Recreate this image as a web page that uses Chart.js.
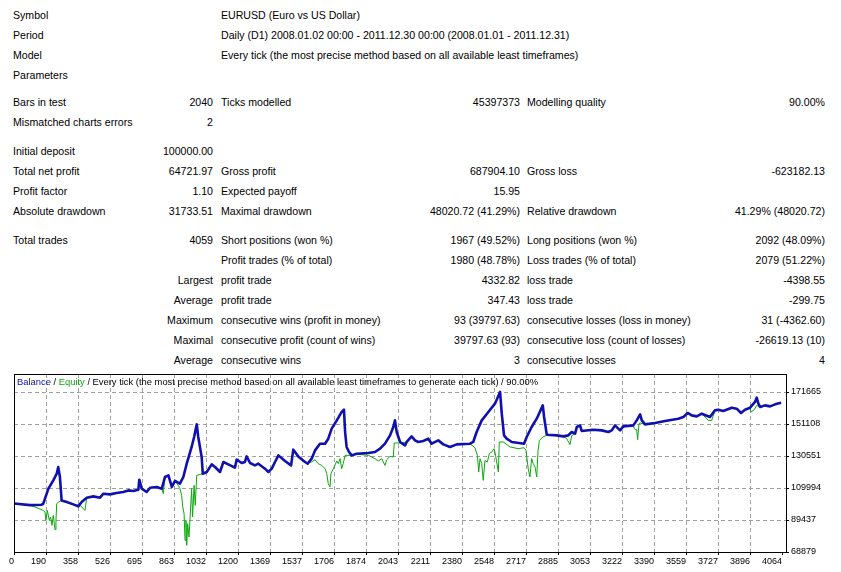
<!DOCTYPE html>
<html>
<head>
<meta charset="utf-8">
<script src="https://cdn.jsdelivr.net/npm/chart.js@4.4.0/dist/chart.umd.min.js"></script>
<style>
  body { margin: 0; background: #fff; width: 841px; height: 572px; overflow: hidden; position: relative;
         font-family: "Liberation Sans", Arial, sans-serif; font-size: 10.6px; color: #000; }
  .c { position: absolute; white-space: nowrap; line-height: 20px; height: 20px; }
  #wrap { position: absolute; left: 0; top: 370px; width: 841px; height: 202px; }
  #title { position: absolute; left: 17px; top: 376px; font-size: 9.4px; line-height: 12px; white-space: nowrap; }
</style>
</head>
<body>
<div id="report"></div>
<div id="wrap"><canvas id="chart" width="841" height="202"></canvas></div>
<div id="title"><span style="color:#1010b0">Balance</span> / <span style="color:#0aa80a">Equity</span> / Every tick (the most precise method based on all available least timeframes to generate each tick) / 90.00%</div>
<script>
// report table
const reportRows = [
  ["Symbol", "", "EURUSD (Euro vs US Dollar)", "", "", ""],
  ["Period", "", "Daily (D1) 2008.01.02 00:00 - 2011.12.30 00:00 (2008.01.01 - 2011.12.31)", "", "", ""],
  ["Model", "", "Every tick (the most precise method based on all available least timeframes)", "", "", ""],
  ["Parameters", "", "", "", "", ""],
  ["Bars in test", "2040", "Ticks modelled", "45397373", "Modelling quality", "90.00%"],
  ["Mismatched charts errors", "2", "", "", "", ""],
  ["Initial deposit", "100000.00", "", "", "", ""],
  ["Total net profit", "64721.97", "Gross profit", "687904.10", "Gross loss", "-623182.13"],
  ["Profit factor", "1.10", "Expected payoff", "15.95", "", ""],
  ["Absolute drawdown", "31733.51", "Maximal drawdown", "48020.72 (41.29%)", "Relative drawdown", "41.29% (48020.72)"],
  ["Total trades", "4059", "Short positions (won %)", "1967 (49.52%)", "Long positions (won %)", "2092 (48.09%)"],
  ["", "", "Profit trades (% of total)", "1980 (48.78%)", "Loss trades (% of total)", "2079 (51.22%)"],
  ["", "Largest", "profit trade", "4332.82", "loss trade", "-4398.55"],
  ["", "Average", "profit trade", "347.43", "loss trade", "-299.75"],
  ["", "Maximum", "consecutive wins (profit in money)", "93 (39797.63)", "consecutive losses (loss in money)", "31 (-4362.60)"],
  ["", "Maximal", "consecutive profit (count of wins)", "39797.63 (93)", "consecutive loss (count of losses)", "-26619.13 (10)"],
  ["", "Average", "consecutive wins", "3", "consecutive losses", "4"],
];

// chart data (trade number / money)
const balanceTrades = [0, 85, 147, 155, 182, 208, 226, 234, 243, 252, 279, 314, 340, 358, 385, 420, 455, 473, 508, 543,
  578, 605, 631, 658, 663, 676, 702, 720, 755, 782, 799, 817, 835, 852, 878, 896, 914, 940, 953, 967,
  975, 993, 999, 1020, 1046, 1064, 1090, 1108, 1134, 1169, 1178, 1205, 1222, 1231, 1249, 1275, 1293, 1328, 1346, 1364,
  1381, 1399, 1434, 1466, 1478, 1504, 1540, 1554, 1575, 1593, 1619, 1646, 1663, 1681, 1708, 1734, 1746, 1752, 1760, 1773,
  1787, 1813, 1875, 1910, 1937, 1963, 1990, 2007, 2016, 2025, 2043, 2069, 2078, 2104, 2122, 2139, 2166, 2192, 2210, 2245,
  2272, 2307, 2343, 2413, 2430, 2448, 2475, 2510, 2545, 2572, 2581, 2593, 2607, 2634, 2699, 2713, 2739, 2766, 2798, 2805,
  2819, 2872, 2907, 2933, 2951, 2969, 2978, 2995, 3004, 3065, 3110, 3145, 3163, 3180, 3207, 3224, 3277, 3295, 3313, 3322,
  3339, 3392, 3445, 3515, 3542, 3565, 3586, 3613, 3639, 3683, 3709, 3727, 3753, 3798, 3824, 3847, 3868, 3895, 3921, 3930,
  3939, 3948, 3974, 4001, 4027, 4059];
const balanceValues = [100000, 99000, 99265, 99907, 109543, 114875, 119179, 123483, 117059, 102027, 100999, 99457, 98172, 100999, 103761, 104596, 103761, 106331, 105881, 106781,
  107423, 108451, 108065, 108901, 115325, 109543, 107423, 110185, 110635, 109543, 117059, 118087, 110635, 114489, 112755, 117059, 125603, 136331, 142755, 150849,
  142755, 129907, 119179, 120271, 125153, 123483, 120271, 126695, 125153, 123033, 128173, 126053, 126695, 130292, 126053, 124511, 125603, 122391, 120271, 122391,
  126695, 130935, 127337, 124511, 134597, 130292, 126695, 125603, 128815, 134147, 138451, 138451, 141663, 148087, 153419, 158815, 160293, 145967, 136331, 133119,
  130935, 132027, 132477, 133119, 135239, 138451, 143783, 149179, 153419, 145967, 139543, 137359, 139543, 143140, 140571, 139543, 140185, 141663, 138451, 140571,
  138001, 136331, 138001, 138451, 139543, 145967, 153419, 158815, 164147, 171665, 157723, 143783, 141663, 139543, 138451, 142755, 149179, 154511, 163055, 155603,
  144233, 143783, 143140, 143783, 145967, 144875, 149179, 150207, 146609, 147445, 146995, 145967, 146995, 150207, 146995, 149564, 150207, 153419, 157273, 153419,
  150849, 151749, 153033, 154511, 155603, 158173, 156631, 155988, 157723, 155603, 159843, 160293, 159457, 161577, 160935, 158173, 160293, 161577, 165239, 168001,
  164147, 162027, 163055, 162412, 163697, 164722];

const equityTrades = [0, 85, 111, 155, 164, 169, 176, 187, 194, 201, 208, 217, 222, 226, 234, 252, 279, 314, 349, 376,
  385, 420, 455, 473, 508, 543, 578, 605, 631, 658, 663, 676, 702, 720, 755, 782, 790, 799, 817, 835,
  852, 869, 878, 887, 893, 900, 905, 910, 914, 919, 926, 931, 940, 945, 953, 959, 967, 999, 1020, 1046,
  1064, 1090, 1108, 1134, 1169, 1178, 1205, 1222, 1231, 1249, 1275, 1293, 1328, 1346, 1364, 1381, 1399, 1434, 1466, 1478,
  1504, 1540, 1549, 1575, 1593, 1610, 1628, 1646, 1655, 1663, 1672, 1677, 1690, 1708, 1716, 1725, 1734, 1742, 1752, 1787,
  1813, 1840, 1875, 1910, 1928, 1946, 1963, 1972, 1990, 2007, 2012, 2052, 2078, 2104, 2122, 2139, 2166, 2192, 2210, 2245,
  2272, 2307, 2343, 2413, 2439, 2452, 2459, 2466, 2475, 2483, 2492, 2505, 2515, 2528, 2540, 2547, 2554, 2563, 2568, 2589,
  2625, 2669, 2699, 2709, 2721, 2730, 2739, 2748, 2757, 2766, 2773, 2780, 2798, 2819, 2872, 2907, 2925, 2942, 2951, 2969,
  2978, 2995, 3004, 3065, 3110, 3145, 3163, 3180, 3207, 3224, 3277, 3282, 3290, 3295, 3300, 3307, 3313, 3339, 3392, 3445,
  3515, 3542, 3565, 3586, 3613, 3639, 3674, 3692, 3709, 3727, 3753, 3798, 3824, 3847, 3868, 3895, 3900, 3917, 3930, 3948,
  3974, 4001, 4027, 4059];
const equityValues = [100000, 98815, 97787, 95603, 94575, 89179, 95603, 89179, 91363, 85967, 92391, 83205, 89179, 99907, 100742, 102027, 100999, 99457, 98815, 95603,
  103761, 104596, 103761, 106331, 105881, 106781, 107423, 108451, 108065, 108901, 115325, 109543, 107423, 110185, 110635, 109543, 106331, 117059, 118087, 110635,
  114489, 111663, 109543, 105239, 97787, 93483, 76331, 89179, 73119, 87059, 78515, 89179, 109543, 91363, 111663, 98815, 118087, 119179, 120271, 125153,
  123483, 120271, 126695, 125153, 123033, 128173, 126053, 126695, 130292, 126053, 124511, 125603, 122391, 120271, 122391, 126695, 130935, 127337, 124511, 134597,
  130292, 126695, 126053, 126695, 128173, 125603, 124511, 122391, 119179, 112755, 110635, 119179, 122391, 127337, 125603, 128815, 122391, 125603, 130935, 130935,
  132027, 131385, 130935, 128815, 127337, 128815, 124511, 128173, 130292, 129907, 138900, 138900, 139543, 143140, 140571, 139543, 140185, 141663, 138451, 140571,
  138001, 136331, 138001, 138451, 135882, 130935, 120271, 128815, 125603, 114875, 127723, 126695, 132027, 133119, 135239, 132027, 126695, 120271, 139543, 139543,
  136331, 135239, 135882, 134147, 122391, 117059, 128815, 125603, 123483, 117059, 134147, 140571, 142755, 143783, 143783, 143140, 141663, 137809, 143590, 144875,
  149179, 150207, 146609, 147445, 146995, 145967, 146995, 150207, 146995, 149564, 150207, 148087, 147445, 147445, 141020, 151299, 151749, 150849, 151749, 153033,
  154511, 155603, 158173, 156631, 155988, 157723, 153419, 153419, 159843, 160293, 159457, 161577, 160935, 158173, 160293, 161577, 158815, 160293, 163000, 162027,
  163055, 162412, 163697, 164722];

const xTickLabels = ["0", "190", "358", "526", "695", "863", "1032", "1200", "1369", "1537", "1706", "1874", "2043",
  "2211", "2380", "2548", "2717", "2885", "3053", "3222", "3390", "3559", "3727", "3896", "4064"];
const yTickValues = [68879, 89437, 109994, 130551, 151108, 171665];

// table layout
const rowCenters = [15, 35, 55, 75, 102, 122, 151, 171, 191, 211, 240, 260, 280, 300, 320, 340, 360];
const colLeft = [13, null, 221, null, 527, null];
const colRight = [null, 213, null, 520, null, 825];

const report = document.getElementById("report");
reportRows.forEach((row, r) => {
  row.forEach((text, c) => {
    if (!text) return;
    const el = document.createElement("div");
    el.className = "c";
    el.textContent = text;
    el.style.top = (rowCenters[r] - 10) + "px";
    if (colLeft[c] !== null) el.style.left = colLeft[c] + "px";
    else el.style.right = (841 - colRight[c]) + "px";
    report.appendChild(el);
  });
});

// dashed grid + tick marks, placed from the scales
const dashedGrid = {
  id: "dashedGrid",
  beforeDatasetsDraw(chart) {
    const { ctx, chartArea: a, scales: { x, y } } = chart;
    const line = (x1, y1, x2, y2) => { ctx.beginPath(); ctx.moveTo(x1, y1); ctx.lineTo(x2, y2); ctx.stroke(); };
    ctx.save();
    ctx.lineWidth = 1;
    ctx.strokeStyle = "#a0a0a0";
    ctx.setLineDash([4, 3]);
    x.ticks.forEach((t, i) => {
      const px = Math.round(x.getPixelForTick(i)) + 0.5;
      if (px > a.left + 2 && px < a.right - 6) line(px, a.top, px, a.bottom);
    });
    y.ticks.forEach((t, i) => {
      const py = Math.round(y.getPixelForTick(i)) + 0.5;
      if (py > a.top + 2 && py < a.bottom - 2) line(a.left, py, a.right, py);
    });
    ctx.setLineDash([]);
    ctx.strokeStyle = "#000";
    x.ticks.forEach((t, i) => {
      const px = Math.round(x.getPixelForTick(i)) + 0.5;
      line(px, Math.round(a.bottom), px, Math.round(a.bottom) + 3);
    });
    y.ticks.forEach((t, i) => {
      const py = Math.round(y.getPixelForTick(i)) + 0.5;
      line(Math.round(a.right), py, Math.round(a.right) + 3, py);
    });
    ctx.restore();
  },
  afterDraw(chart) {
    const { ctx, chartArea: a } = chart;
    ctx.save();
    ctx.strokeStyle = "#000";
    ctx.lineWidth = 1;
    ctx.strokeRect(Math.round(a.left) + 0.5, Math.round(a.top) + 0.5,
      Math.round(a.right - a.left), Math.round(a.bottom - a.top));
    ctx.restore();
  },
};

const xStep = 4064 / 24;
const tickFont = { family: "Liberation Sans", size: 9 };

new Chart(document.getElementById("chart"), {
  type: "line",
  data: {
    datasets: [
      {
        label: "Balance",
        data: balanceTrades.map((t, i) => ({ x: t, y: balanceValues[i] })),
        borderColor: "#1010b0",
        borderWidth: 2.6,
        borderJoinStyle: "round",
        pointRadius: 0,
        tension: 0,
      },
      {
        label: "Equity",
        data: equityTrades.map((t, i) => ({ x: t, y: equityValues[i] })),
        borderColor: "#0aa80a",
        borderWidth: 1,
        pointRadius: 0,
        tension: 0,
      },
    ],
  },
  options: {
    responsive: false,
    animation: false,
    devicePixelRatio: 1,
    layout: { padding: { left: 14, top: 4, right: 0, bottom: 0 } },
    plugins: { legend: { display: false }, tooltip: { enabled: false } },
    scales: {
      x: {
        type: "linear",
        min: 0,
        max: 4085,
        afterBuildTicks: (s) => { s.ticks = xTickLabels.map((l, i) => ({ value: i * xStep })); },
        afterFit: (s) => { s.height = 20; s.paddingLeft = 0; s.paddingRight = 0; },
        grid: { display: false, drawTicks: true, tickLength: 3 },
        border: { display: false },
        ticks: {
          autoSkip: false, maxRotation: 0, align: "end", padding: 1, color: "#000", font: tickFont,
          callback: (v, i) => xTickLabels[i],
        },
      },
      y: {
        position: "right",
        min: 68879,
        max: 183200,
        afterBuildTicks: (s) => { s.ticks = yTickValues.map((v) => ({ value: v })); },
        afterFit: (s) => { s.width = 55; s.paddingTop = 0; s.paddingBottom = 0; },
        grid: { display: false, drawTicks: true, tickLength: 3 },
        border: { display: false },
        ticks: { padding: 2, color: "#000", font: tickFont, callback: (v) => String(v) },
      },
    },
  },
  plugins: [dashedGrid],
});
</script>
</body>
</html>
